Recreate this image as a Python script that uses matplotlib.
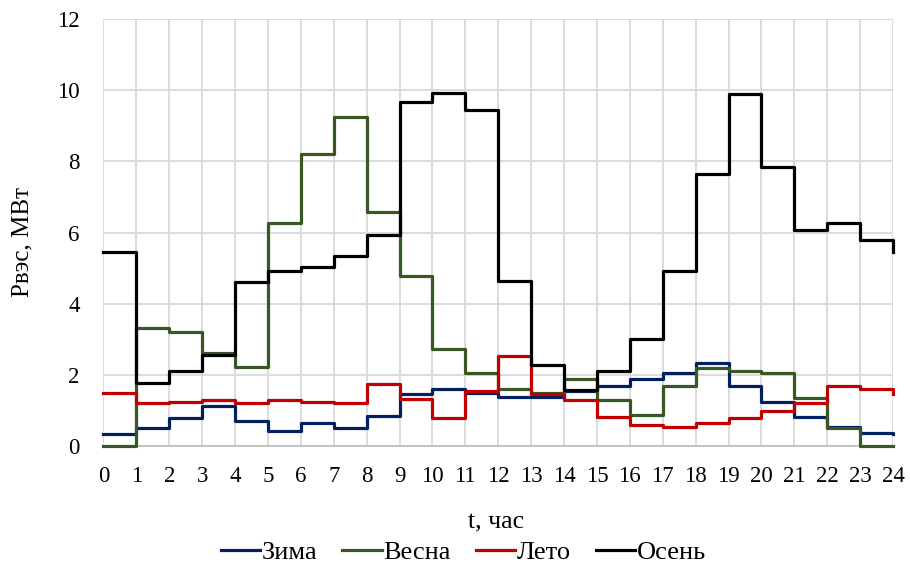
import numpy as np
import matplotlib.pyplot as plt

# часы суток (последняя точка 24 = повтор значения 0)
hours = list(range(25))

zima = [0.33, 0.50, 0.78, 1.13, 0.71, 0.43, 0.66, 0.50, 0.86, 1.47, 1.60, 1.48,
        1.37, 1.38, 1.56, 1.70, 1.88, 2.05, 2.35, 1.69, 1.25, 0.83, 0.54, 0.36, 0.33]
vesna = [0.0, 3.31, 3.20, 2.63, 2.21, 6.27, 8.20, 9.26, 6.58, 4.79, 2.73, 2.05,
         1.60, 1.48, 1.88, 1.31, 0.88, 1.69, 2.19, 2.12, 2.05, 1.36, 0.50, 0.0, 0.0]
leto = [1.48, 1.20, 1.25, 1.31, 1.20, 1.31, 1.25, 1.20, 1.75, 1.33, 0.80, 1.56,
        2.54, 1.46, 1.31, 0.81, 0.59, 0.54, 0.66, 0.80, 0.99, 1.20, 1.69, 1.61, 1.47]
osen = [5.47, 1.77, 2.11, 2.55, 4.61, 4.91, 5.03, 5.33, 5.92, 9.67, 9.92, 9.46,
        4.63, 2.28, 1.57, 2.11, 3.00, 4.91, 7.65, 9.90, 7.84, 6.08, 6.27, 5.80, 5.45]

series = [("Зима", zima, "#002060"),
          ("Весна", vesna, "#385723"),
          ("Лето", leto, "#C00000"),
          ("Осень", osen, "#000000")]

plt.rcParams['font.family'] = ['Liberation Serif', 'DejaVu Serif']

fig = plt.figure(figsize=(9.1, 5.64), dpi=100)
ax = fig.add_axes([0.1137, 0.209, 0.8676, 0.757])

for name, vals, col in series:
    ax.step(hours, vals, where='post', color=col, lw=2.3, label=name,
            clip_on=False, zorder=3)

ax.set_xlim(0, 24)
ax.set_ylim(0, 12)
ax.set_xticks(range(25))
ax.set_yticks(range(0, 13, 2))
ax.grid(True, color='#d9d9d9', lw=1.3, zorder=0)
ax.set_axisbelow(True)
for s in ['top', 'right', 'left']:
    ax.spines[s].set_visible(False)
ax.spines['bottom'].set_color('#bfbfbf')
ax.spines['bottom'].set_linewidth(1.3)
ax.tick_params(axis='both', length=0, labelsize=16.5)
ax.tick_params(axis='y', pad=17)
ax.tick_params(axis='x', pad=14)

ax.set_xlabel('t, час', fontsize=18.5)
ax.xaxis.set_label_coords(0.497, -0.154)
ax.set_ylabel('Рвэс, МВт', fontsize=18)
ax.yaxis.set_label_coords(-0.089, 0.478)

ax.legend(loc='center', bbox_to_anchor=(0.509, 0.021), bbox_transform=fig.transFigure,
          ncol=4, frameon=False, fontsize=19, handlelength=1.5, handletextpad=0.05,
          columnspacing=0.95, borderaxespad=0, borderpad=0)

fig.savefig('out.png', dpi=100)
